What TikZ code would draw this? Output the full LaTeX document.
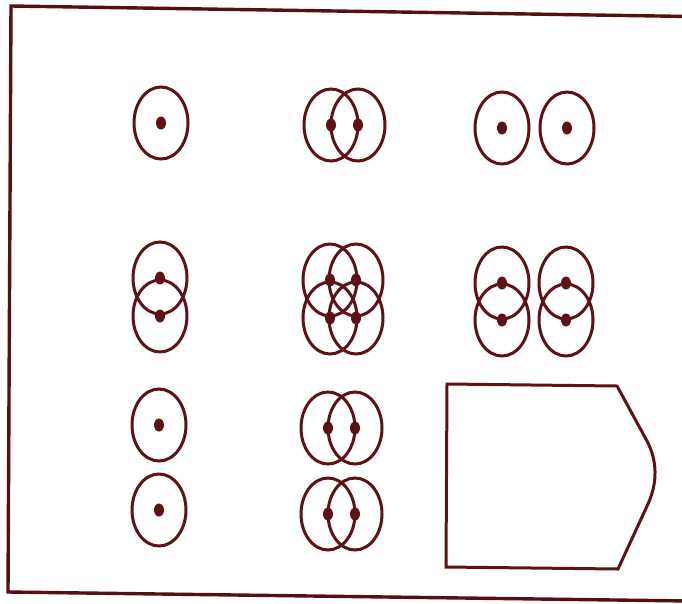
\documentclass[tikz,border=0pt]{standalone}
\definecolor{maroon}{HTML}{5E1216}
\definecolor{framec}{HTML}{55100F}
\tikzset{
  ringline/.style={draw=maroon, line width=3pt},
  dotfill/.style={fill=maroon, draw=none},
  framestyle/.style={draw=framec, line width=3.4pt, line join=miter},
}
\newcommand{\ringat}[2]{%
  \draw[ringline] (#1,#2) ellipse [x radius=27, y radius=36];
  \fill[dotfill] (#1,#2) ellipse [x radius=5, y radius=6.5];
}
\begin{document}
\begin{tikzpicture}[x=1pt,y=-1pt]
\useasboundingbox (0,0) rectangle (682,603);
\fill[white] (0,0) rectangle (682,603);
% frame
\draw[framestyle] (690,16.5) -- (11,6) -- (8,592) -- (690,601);
% row 1
\ringat{161}{123}
\ringat{331}{125}
\ringat{358}{125}
\ringat{502}{128}
\ringat{567}{128}
% row 2
\ringat{160}{278}
\ringat{160}{316}
\ringat{330}{280}
\ringat{356}{280}
\ringat{330}{318}
\ringat{356}{318}
\ringat{502}{283}
\ringat{502}{320}
\ringat{566}{283}
\ringat{566}{320}
% row 3
\ringat{159}{425}
\ringat{159}{510}
\ringat{328}{428}
\ringat{355}{428}
\ringat{328}{514}
\ringat{355}{514}
% panel
\draw[ringline, line join=miter] (447,384) -- (617,386) -- (647,441)
  .. controls (657,460) and (658,482) .. (648,504)
  -- (618,569) -- (446,567) -- cycle;
\end{tikzpicture}
\end{document}
